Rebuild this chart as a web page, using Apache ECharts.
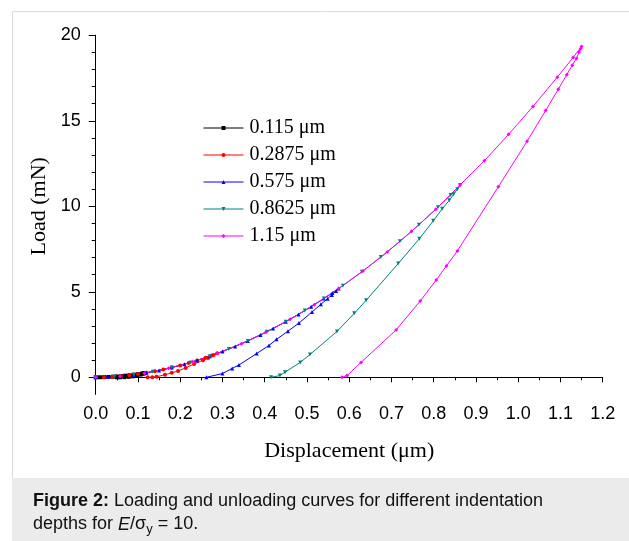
<!DOCTYPE html>
<html>
<head>
<meta charset="utf-8">
<script src="https://cdn.jsdelivr.net/npm/echarts@6/dist/echarts.min.js"></script>
<style>html,body{margin:0;padding:0;background:#fff;}#c{width:629px;height:541px;}</style>
</head>
<body>
<div id="c"></div>
<script>
// ---- data ----
const seriesNames = ['0.115 μm', '0.2875 μm', '0.575 μm', '0.8625 μm', '1.15 μm'];
const xTicks = [0, 0.1, 0.2, 0.3, 0.4, 0.5, 0.6, 0.7, 0.8, 0.9, 1.0, 1.1, 1.2];
const yTicks = [0, 5, 10, 15, 20];

const blackLoadH = [0, 0.01, 0.02, 0.03, 0.04, 0.05, 0.06, 0.07, 0.08, 0.09, 0.10, 0.11, 0.115];
const blackLoadP = [0, 0.002, 0.009, 0.019, 0.033, 0.050, 0.071, 0.095, 0.122, 0.153, 0.187, 0.224, 0.244];
const blackUnH = [0.113, 0.106, 0.098, 0.088, 0.078, 0.068, 0.058, 0.050];
const blackUnP = [0.215, 0.160, 0.105, 0.058, 0.027, 0.009, 0.002, 0];

const redLoadH = [0, 0.02, 0.04, 0.06, 0.08, 0.10, 0.12, 0.14, 0.16, 0.18, 0.20, 0.22, 0.24, 0.26, 0.275, 0.2875];
const redLoadP = [0, 0.009, 0.033, 0.071, 0.122, 0.187, 0.264, 0.354, 0.456, 0.571, 0.697, 0.836, 0.986, 1.148, 1.277, 1.40];
const redUnH = [0.279, 0.266, 0.254, 0.233, 0.213, 0.195, 0.180, 0.164, 0.144, 0.134, 0.123];
const redUnP = [1.30, 1.13, 1.00, 0.78, 0.55, 0.37, 0.26, 0.15, 0.03, 0.005, 0];

const blueLoadH = [0, 0.03, 0.06, 0.09, 0.12, 0.15, 0.18, 0.21, 0.24, 0.27, 0.30, 0.33, 0.36, 0.39, 0.42, 0.45, 0.48, 0.51, 0.54, 0.56, 0.575];
const blueLoadP = [0, 0.019, 0.071, 0.153, 0.264, 0.404, 0.571, 0.765, 0.986, 1.233, 1.506, 1.805, 2.130, 2.480, 2.855, 3.255, 3.679, 4.128, 4.602, 4.932, 5.19];
const blueUnH = [0.569, 0.559, 0.549, 0.533, 0.512, 0.481, 0.455, 0.428, 0.410, 0.381, 0.339, 0.323, 0.300, 0.262];
const blueUnP = [5.05, 4.82, 4.60, 4.27, 3.82, 3.17, 2.70, 2.22, 1.86, 1.39, 0.72, 0.52, 0.22, 0];

const tealLoadH = [0, 0.045, 0.09, 0.135, 0.18, 0.225, 0.27, 0.315, 0.36, 0.405, 0.45, 0.495, 0.54, 0.585, 0.63, 0.675, 0.72, 0.765, 0.81, 0.84, 0.8625];
const tealLoadP = [0, 0.041, 0.153, 0.330, 0.571, 0.872, 1.233, 1.653, 2.130, 2.664, 3.255, 3.901, 4.602, 5.358, 6.168, 7.032, 7.950, 8.919, 9.942, 10.654, 11.25];
const tealUnH = [0.856, 0.847, 0.837, 0.820, 0.799, 0.766, 0.716, 0.640, 0.612, 0.571, 0.507, 0.484, 0.448, 0.436, 0.415];
const tealUnP = [11.0, 10.7, 10.35, 9.85, 9.15, 8.1, 6.65, 4.5, 3.74, 2.68, 1.33, 0.87, 0.3, 0.1, 0];

const magLoadH = [0, 0.0575, 0.115, 0.1725, 0.23, 0.2875, 0.345, 0.4025, 0.46, 0.5175, 0.575, 0.6325, 0.69, 0.7475, 0.805, 0.8625, 0.92, 0.9775, 1.035, 1.0925, 1.13, 1.15];
const magLoadP = [0, 0.065, 0.244, 0.527, 0.909, 1.389, 1.965, 2.633, 3.393, 4.245, 5.19, 6.214, 7.331, 8.536, 9.827, 11.25, 12.664, 14.21, 15.84, 17.55, 18.7, 19.35];
const magUnH = [1.148, 1.144, 1.138, 1.128, 1.115, 1.095, 1.065, 1.021, 0.953, 0.856, 0.830, 0.806, 0.768, 0.711, 0.628, 0.595, 0.583];
const magUnP = [19.22, 19.02, 18.65, 18.25, 17.7, 16.85, 15.6, 13.8, 11.14, 7.39, 6.51, 5.69, 4.46, 2.77, 0.87, 0.1, 0];

// ---- build ----
function pairs(h1, p1, h2, p2) {
  const out = [];
  h1.forEach((h, i) => out.push([h, p1[i]]));
  h2.forEach((h, i) => out.push([h, p2[i]]));
  return out;
}
const dataSets = [
  pairs(blackLoadH, blackLoadP, blackUnH, blackUnP),
  pairs(redLoadH, redLoadP, redUnH, redUnP),
  pairs(blueLoadH, blueLoadP, blueUnH, blueUnP),
  pairs(tealLoadH, tealLoadP, tealUnH, tealUnP),
  pairs(magLoadH, magLoadP, magUnH, magUnP)
];
const colors = ['#000000', '#ff0000', '#0000ff', '#008080', '#ff00ff'];
const symbols = ['rect', 'circle', 'triangle', 'triangle', 'diamond'];
const rotates = [0, 0, 0, 180, 0];

const GL = 95.7, GR = 629 - 602.7, GT = 35.3;
const Y0 = 377.3, YM1 = 394.4;

const chart = echarts.init(document.getElementById('c'), null, {renderer: 'canvas'});
const axisLineStyle = {show: true, lineStyle: {color: '#000', width: 1}};
const tickFont = {fontFamily: 'Liberation Sans', fontSize: 18, color: '#000'};
chart.setOption({
  animation: false,
  backgroundColor: '#fff',
  grid: [
    {left: GL, right: GR, top: GT, bottom: 541 - YM1, containLabel: false},
    {left: GL, right: GR, top: GT, bottom: 541 - Y0, containLabel: false}
  ],
  legend: {
    orient: 'vertical', left: 203, top: 118, padding: 0,
    itemWidth: 40, itemHeight: 5, itemGap: 7,
    data: seriesNames,
    lineStyle: {width: 1},
    textStyle: {fontFamily: 'Liberation Serif', fontSize: 20, lineHeight: 20, color: '#000', padding: [0, 0, 0, 1]}
  },
  xAxis: [
    {
      gridIndex: 0, type: 'value', min: xTicks[0], max: xTicks[xTicks.length - 1], interval: 0.1,
      axisLine: axisLineStyle,
      axisTick: {show: true, inside: false, length: 5, lineStyle: {color: '#000'}},
      minorTick: {show: true, splitNumber: 2, length: 3, lineStyle: {color: '#000'}},
      axisLabel: Object.assign({margin: 11, formatter: v => v.toFixed(1)}, tickFont),
      splitLine: {show: false},
      name: 'Displacement (μm)', nameLocation: 'middle', nameGap: 46,
      nameTextStyle: {fontFamily: 'Liberation Serif', fontSize: 22, color: '#000'}
    },
    {gridIndex: 1, type: 'value', min: 0, max: 1.2, show: false}
  ],
  yAxis: [
    {
      gridIndex: 0, type: 'value', min: -1, max: 20,
      axisLine: axisLineStyle, axisTick: {show: false}, axisLabel: {show: false}, splitLine: {show: false}
    },
    {
      gridIndex: 1, type: 'value', min: yTicks[0], max: yTicks[yTicks.length - 1], interval: 5,
      axisLine: axisLineStyle,
      axisTick: {show: true, inside: false, length: 7, lineStyle: {color: '#000'}},
      minorTick: {show: true, splitNumber: 5, length: 4, lineStyle: {color: '#000'}},
      axisLabel: Object.assign({margin: 15}, tickFont),
      splitLine: {show: false},
      name: 'Load (mN)', nameLocation: 'middle', nameGap: 39, nameRotate: 90,
      nameTextStyle: {fontFamily: 'Liberation Serif', fontSize: 22, color: '#000'}
    }
  ],
  graphic: [
    {type: 'rect', silent: true, shape: {x: 12.5, y: 11.5, width: 640, height: 470}, style: {fill: 'none', stroke: '#dcdcdc', lineWidth: 1}},
    {type: 'rect', silent: true, shape: {x: 12, y: 478, width: 630, height: 70}, style: {fill: '#ebebeb'}},
    {
      type: 'text', silent: true, left: 33, top: 490,
      style: {
        text: '{b|Figure 2:} Loading and unloading curves for different indentation\ndepths for {i|E}/σ{s|y} = 10.',
        fontFamily: 'Liberation Sans', fontSize: 18, lineHeight: 23, fill: '#111',
        rich: {
          b: {fontWeight: 'bold', fontFamily: 'Liberation Sans', fontSize: 18, lineHeight: 23, fill: '#111'},
          i: {fontStyle: 'italic', fontFamily: 'Liberation Sans', fontSize: 18, lineHeight: 23, fill: '#111'},
          s: {fontFamily: 'Liberation Sans', fontSize: 13, lineHeight: 12, verticalAlign: 'bottom', fill: '#111'}
        }
      }
    }
  ],
  series: dataSets.map((d, i) => ({
    name: seriesNames[i], type: 'line', xAxisIndex: 0, yAxisIndex: 0,
    data: d, smooth: false, showSymbol: true,
    symbol: symbols[i], symbolRotate: rotates[i], symbolSize: 4,
    lineStyle: {color: colors[i], width: 1},
    itemStyle: {color: colors[i]},
    emphasis: {disabled: true}
  }))
});
</script>
</body>
</html>
